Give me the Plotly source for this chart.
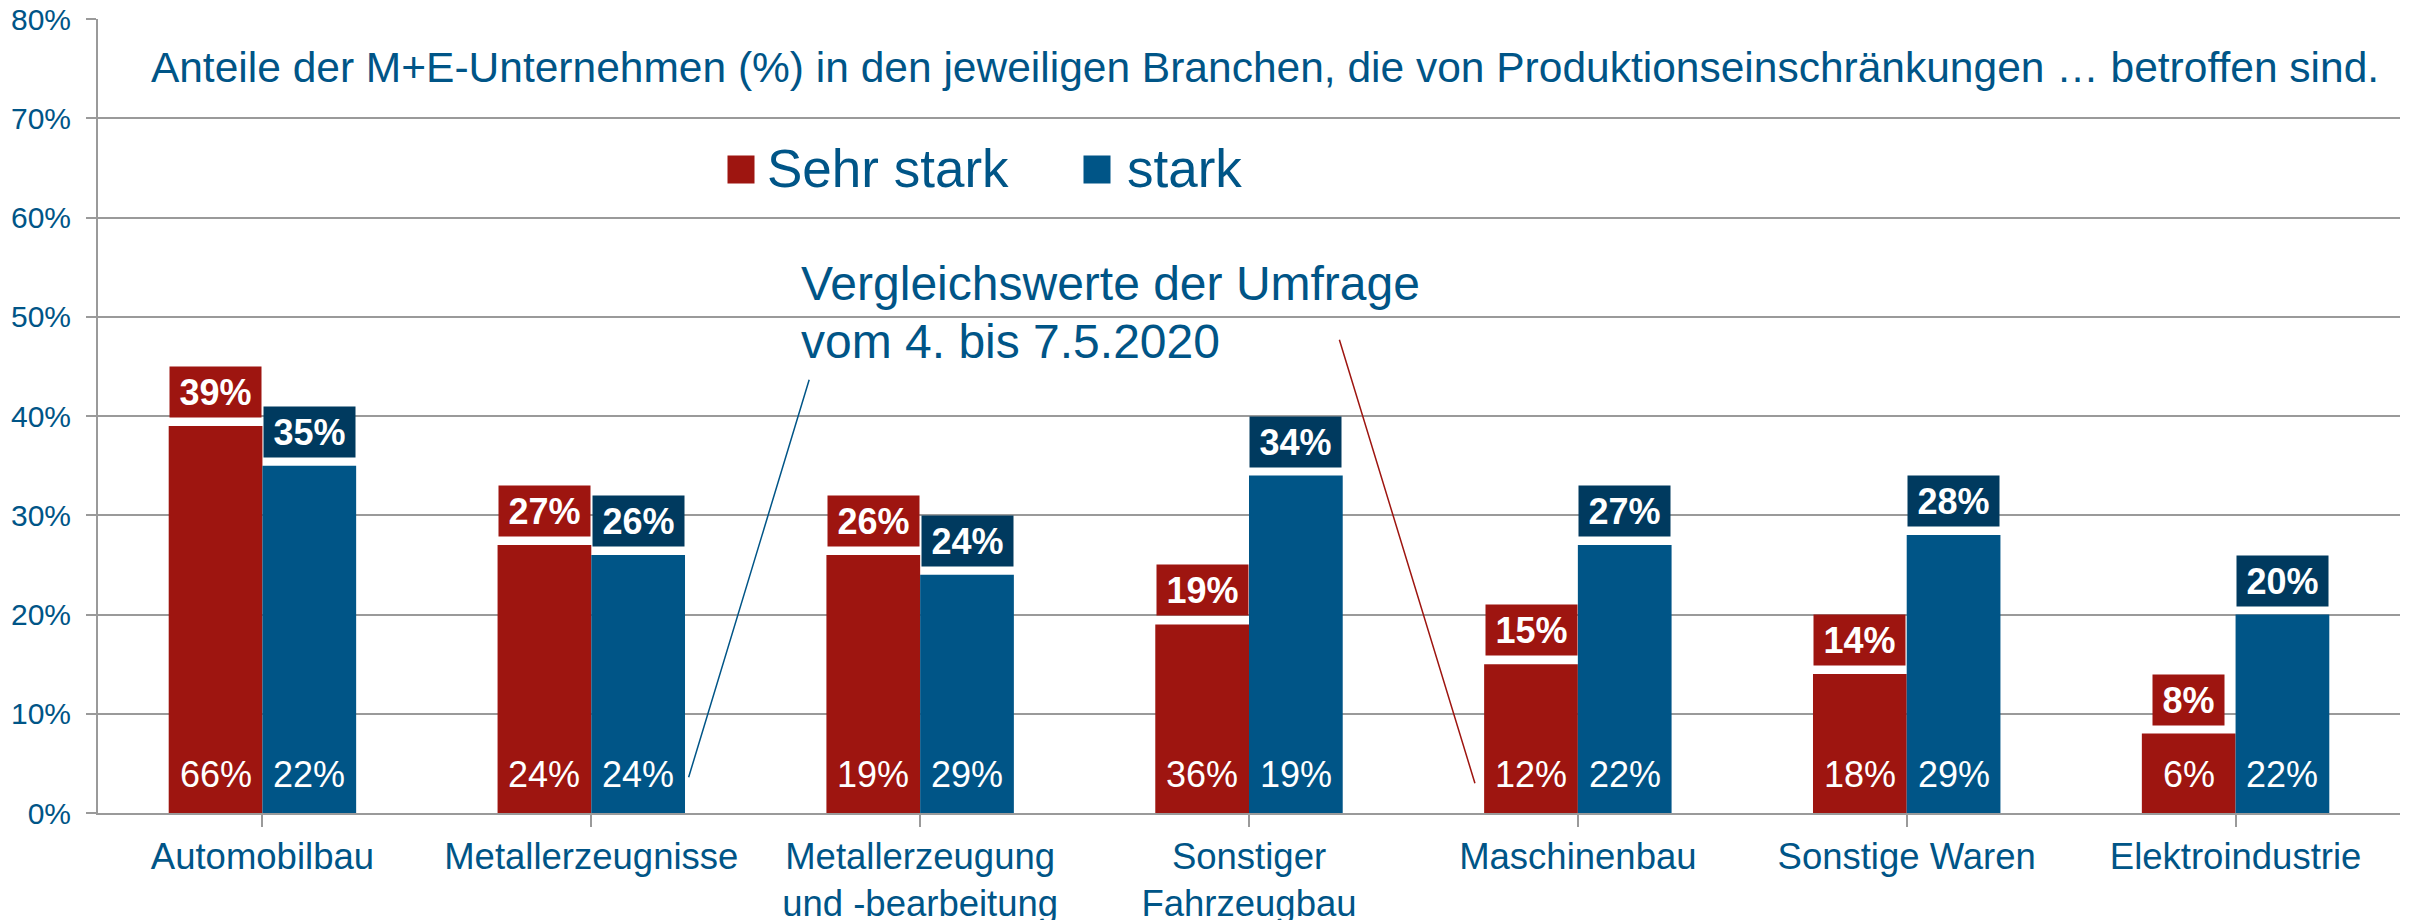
import plotly.graph_objects as go

# ---- data ----
categories = ["Automobilbau", "Metallerzeugnisse", "Metallerzeugung<br>und -bearbeitung",
              "Sonstiger<br>Fahrzeugbau", "Maschinenbau", "Sonstige Waren", "Elektroindustrie"]
sehr_stark = [39, 27, 26, 19, 15, 14, 8]
stark = [35, 26, 24, 34, 27, 28, 20]
sehr_stark_prev = [66, 24, 19, 36, 12, 18, 6]
stark_prev = [22, 24, 29, 19, 22, 29, 22]
series_names = ["Sehr stark", "stark"]
y_ticks = [0, 10, 20, 30, 40, 50, 60, 70, 80]
y_tick_labels = ["0%", "10%", "20%", "30%", "40%", "50%", "60%", "70%", "80%"]

# ---- styles ----
RED = "#9E1510"
BLUE = "#005587"
DARK_BLUE = "#003A5F"
GRID = "#9A9A9A"
FONT = "Liberation Sans, Arial, sans-serif"
BARGAP = 0.43
OFF = (1 - BARGAP) / 4

# page body has an 8px margin -> figure is 8px smaller than the window
W, H = 2405, 912
ML, MR, MT, MB = 90, 13, 11, 107
PW, PH = W - ML - MR, H - MT - MB
PX0, PY1 = ML + 8, H - MB + 8          # plot left / bottom in window pixels


def px(xw):
    return (xw - PX0) / PW


def py(yw):
    return (PY1 - yw) / PH


fig = go.Figure()
fig.add_trace(go.Bar(x=list(range(len(categories))), y=sehr_stark, name=series_names[0],
                     marker=dict(color=RED, line=dict(width=0)), showlegend=False))
fig.add_trace(go.Bar(x=list(range(len(categories))), y=stark, name=series_names[1],
                     marker=dict(color=BLUE, line=dict(width=0)), showlegend=False))


def bold_width(txt, size=36):
    w = 0
    for ch in txt:
        w += 0.889 if ch == "%" else 0.556
    return w * size


annotations = []
for i in range(len(categories)):
    for vals, prev, col, sgn in ((sehr_stark, sehr_stark_prev, RED, -1),
                                 (stark, stark_prev, DARK_BLUE, 1)):
        t = f"{vals[i]}%"
        annotations.append(dict(
            x=i + sgn * OFF, y=vals[i], xref="x", yref="y", text=f"<b>{t}</b>",
            showarrow=False, yanchor="bottom", xanchor="center", yshift=8,
            bgcolor=col, borderpad=4, width=bold_width(t) + 11, height=42,
            font=dict(family=FONT, size=36, color="white")))
        annotations.append(dict(
            x=i + sgn * OFF, y=0, xref="x", yref="y", text=f"{prev[i]}%",
            showarrow=False, yanchor="middle", xanchor="center", yshift=39,
            font=dict(family=FONT, size=36, color="white")))

# callout text
annotations.append(dict(x=px(799), y=py(283), xref="paper", yref="paper",
                        text="Vergleichswerte der Umfrage", showarrow=False,
                        xanchor="left", yanchor="middle",
                        font=dict(family=FONT, size=48, color=BLUE)))
annotations.append(dict(x=px(799), y=py(341.5), xref="paper", yref="paper",
                        text="vom 4. bis 7.5.2020", showarrow=False,
                        xanchor="left", yanchor="middle",
                        font=dict(family=FONT, size=48, color=BLUE)))
# callout lines
annotations.append(dict(x=1.296, y=3.6, xref="x", yref="y", text="", showarrow=True,
                        arrowhead=0, arrowwidth=1.5, arrowcolor=BLUE, ax=121, ay=-399,
                        standoff=0, startstandoff=0))
annotations.append(dict(x=3.687, y=3.0, xref="x", yref="y", text="", showarrow=True,
                        arrowhead=0, arrowwidth=1.5, arrowcolor=RED, ax=-136, ay=-445,
                        standoff=0, startstandoff=0))

# legend (custom, large)
for name, col, sq_x, txt_x in ((series_names[0], RED, 740.5, 765),
                               (series_names[1], BLUE, 1097, 1125)):
    annotations.append(dict(x=px(sq_x), y=py(169.5), xref="paper", yref="paper",
                            text=" ", showarrow=False, bgcolor=col, width=26, height=27,
                            borderpad=0, xanchor="center", yanchor="middle",
                            font=dict(size=10)))
    annotations.append(dict(x=px(txt_x), y=py(168), xref="paper", yref="paper",
                            text=name, showarrow=False, xanchor="left", yanchor="middle",
                            font=dict(family=FONT, size=53, color=BLUE)))

fig.update_layout(
    width=W, height=H,
    margin=dict(l=ML, r=MR, t=MT, b=MB, autoexpand=False),
    paper_bgcolor="white", plot_bgcolor="white",
    barmode="group", bargap=BARGAP, bargroupgap=0,
    font=dict(family=FONT, color=BLUE),
    title=dict(text="Anteile der M+E-Unternehmen (%) in den jeweiligen Branchen, die von Produktionseinschränkungen … betroffen sind.",
               x=px(1265), xref="paper", xanchor="center",
               y=1 - (66.7 - 8) / H, yref="container", yanchor="middle",
               font=dict(family=FONT, size=42.5, color=BLUE)),
    annotations=annotations,
    xaxis=dict(tickmode="array", tickvals=list(range(len(categories))), ticktext=categories,
               range=[-0.5, len(categories) - 0.5],
               tickson="boundaries", ticks="outside", ticklen=12, tickwidth=2, tickcolor=GRID,
               showline=True, linecolor=GRID, linewidth=2, showgrid=False, zeroline=False,
               tickfont=dict(family=FONT, size=36.5, color=BLUE), automargin=False,
               ticklabelstandoff=-2, ticklabeloverflow="allow"),
    yaxis=dict(range=[0, 80], tickmode="array", tickvals=y_ticks, ticktext=y_tick_labels,
               ticks="outside", ticklen=10,
               tickwidth=2, tickcolor=GRID, showline=True, linecolor=GRID, linewidth=2,
               showgrid=True, gridcolor=GRID, gridwidth=2, zeroline=False,
               tickfont=dict(family=FONT, size=30, color=BLUE), automargin=False,
               ticklabelstandoff=9, ticklabeloverflow="allow"),
)

fig.write_html("out.html")
